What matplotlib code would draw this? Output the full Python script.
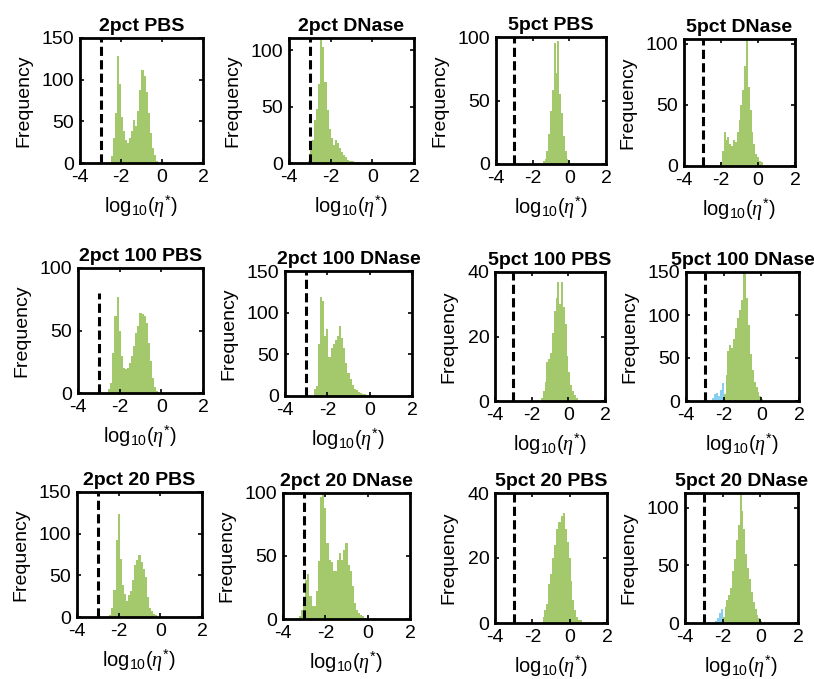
import numpy as np
import matplotlib
matplotlib.use("Agg")
import matplotlib.pyplot as plt

plt.rcParams['font.family'] = ['Liberation Sans', 'DejaVu Sans']
plt.rcParams['mathtext.fontset'] = 'custom'
plt.rcParams['mathtext.rm'] = 'Liberation Sans'
plt.rcParams['mathtext.it'] = 'Liberation Serif:italic'
plt.rcParams['axes.unicode_minus'] = False

# panel titles, row by row
titles = ['2pct PBS', '2pct DNase', '5pct PBS', '5pct DNase',
          '2pct 100 PBS', '2pct 100 DNase', '5pct 100 PBS', '5pct 100 DNase',
          '2pct 20 PBS', '2pct 20 DNase', '5pct 20 PBS', '5pct 20 DNase']

ymax = [150, 111, 100, 104, 100, 150, 40, 150, 150, 100, 40, 113]
ytick_step = [50, 50, 50, 50, 50, 50, 20, 50, 50, 50, 20, 50]
dash_top = [150, 111, 100, 104, 80, 150, 40, 150, 150, 100, 40, 113]

bin_w = 0.1
dash_x = -3.0

# green histograms: (first bin edge, counts)
g_start = [-2.5, -3.1, -1.45, -2.05,
           -2.55, -2.65, -1.5, -2.0,
           -2.45, -3.25, -1.45, -2.0]
g_counts = [
    [8, 30, 60, 128, 95, 55, 38, 28, 24, 30, 38, 52, 45, 62, 88, 112, 105, 85, 60, 36, 18, 10, 3],
    [2, 18, 20, 38, 48, 70, 111, 103, 72, 47, 30, 22, 16, 20, 18, 13, 10, 7, 5, 3, 2, 2, 1, 1, 1],
    [2, 4, 10, 24, 42, 58, 95, 72, 97, 55, 40, 22, 10, 4, 2],
    [3, 12, 28, 21, 24, 18, 16, 21, 20, 28, 38, 50, 62, 82, 104, 65, 46, 28, 18, 10, 7, 4, 3, 1],
    [3, 8, 32, 62, 77, 50, 30, 20, 19, 20, 24, 30, 38, 48, 54, 64, 63, 62, 56, 40, 26, 12, 5, 2],
    [9, 12, 63, 119, 114, 72, 80, 47, 58, 63, 67, 72, 84, 70, 58, 40, 28, 20, 13, 9, 7, 5, 4, 3, 2, 1, 1],
    [1, 3, 6, 12, 13, 15, 21, 28, 32, 37, 30, 37, 29, 24, 14, 9, 5, 3, 2, 1],
    [8, 30, 58, 65, 62, 72, 85, 96, 106, 118, 158, 155, 120, 88, 55, 36, 22, 16, 11, 6, 2],
    [3, 11, 32, 92, 124, 70, 38, 28, 19, 26, 31, 45, 62, 68, 74, 66, 58, 48, 24, 11, 7, 4, 2],
    [2, 7, 15, 31, 36, 18, 10, 10, 22, 46, 97, 100, 88, 60, 47, 45, 38, 38, 47, 52, 47, 55, 60, 43, 38,
     26, 13, 7, 5, 3, 2, 1, 2, 0, 0, 1, 1],
    [2, 4, 6, 12, 15, 20, 24, 29, 31, 31, 33, 34, 29, 25, 20, 13, 7, 4, 2, 1, 1],
    [5, 14, 20, 24, 30, 45, 56, 72, 85, 113, 97, 82, 60, 48, 38, 27, 18, 12, 7, 4, 2],
]

# blue histograms (only two panels have them)
b_start = {7: -2.6, 11: -2.4}
b_counts = {7: [3, 8, 9, 6, 13, 21], 11: [2, 4, 9, 12]}

green = '#a4c96c'
blue = '#86cff0'

# axes boxes in pixels: left, top, right, bottom
boxes = [
    (80, 38, 203, 163), (289, 38, 414, 163), (496, 37, 606, 164), (684, 39, 795, 166),
    (78, 268, 203, 393), (285, 271, 412, 396), (495, 272, 605, 401), (686, 272, 799, 401),
    (77, 492, 202, 617), (283, 493, 410, 619), (495, 493, 607, 623), (685, 493, 798, 623),
]

W, H = 814, 679
fig = plt.figure(figsize=(W / 100, H / 100), dpi=100)

for i, (l, t, r, b) in enumerate(boxes):
    ax = fig.add_axes([l / W, 1 - b / H, (r - l) / W, (b - t) / H])
    counts = g_counts[i]
    edges = g_start[i] + bin_w * np.arange(len(counts) + 1)
    ax.stairs(counts, edges, fill=True, color=green, linewidth=0)
    if i in b_counts:
        bc = b_counts[i]
        be = b_start[i] + bin_w * np.arange(len(bc) + 1)
        ax.stairs(bc, be, fill=True, color=blue, linewidth=0)
    ax.plot([dash_x, dash_x], [0, dash_top[i]], color='black', lw=2.2,
            linestyle=(0, (3, 1.4)))
    ax.set_xlim(-4, 2)
    ax.set_ylim(0, ymax[i])
    ax.set_xticks([-4, -2, 0, 2])
    ax.set_yticks(np.arange(0, ymax[i] + 1, ytick_step[i]))
    ax.tick_params(direction='in', length=3, width=1.2, top=True, right=True,
                   labelsize=14, pad=4)
    for sp in ax.spines.values():
        sp.set_linewidth(2.0)
    ax.set_title(titles[i], fontsize=14, fontweight='bold', pad=5)
    ax.set_ylabel('Frequency', fontsize=14, labelpad=7)
    ax.set_xlabel('log$_{10}$($\\eta^{*}$)', fontsize=14.5, labelpad=6)

fig.savefig('out.png', dpi=100)
